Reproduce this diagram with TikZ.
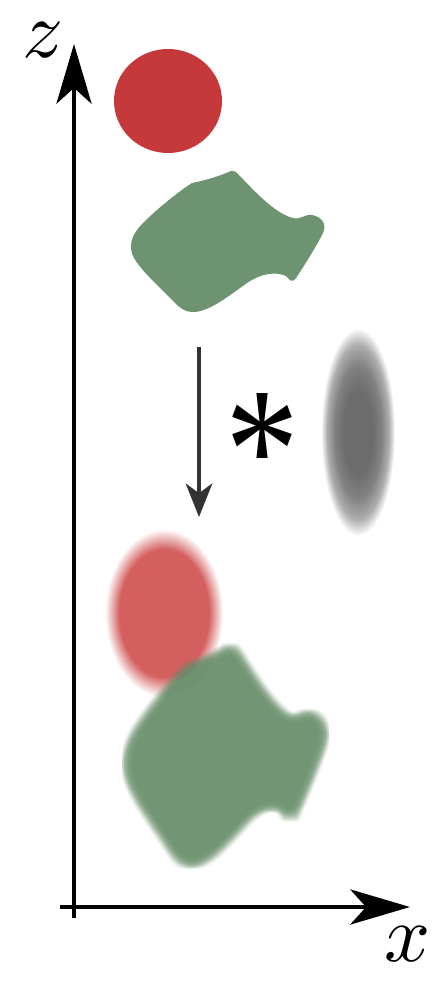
\documentclass[tikz,border=0pt]{standalone}
\usepackage{fontspec}
\usepackage{tikz}
\usepackage{xcolor}
\usetikzlibrary{arrows.meta}
\newfontfamily\starfont{Liberation Serif}
\definecolor{DotRed}{HTML}{C6393A}
\definecolor{SmearRed}{HTML}{D45F5F}
\definecolor{BlobGreen}{HTML}{6E9370}
\definecolor{KernelGray}{HTML}{6C6C6C}
\definecolor{ArrowInk}{HTML}{333333}
\pgfdeclareradialshading{smearred}{\pgfpoint{0bp}{0bp}}{color(0bp)=(SmearRed); color(19bp)=(SmearRed); color(25bp)=(white); color(50bp)=(white)}
\pgfdeclareradialshading{kernelblur}{\pgfpoint{0bp}{0bp}}{color(0bp)=(KernelGray); color(10bp)=(KernelGray); color(16bp)=(KernelGray!85!white); color(21bp)=(KernelGray!55!white); color(25bp)=(white); color(50bp)=(white)}
\newcommand\blobpath[1]{%
  \path[#1] (192,183) .. controls (208,180) and (222,175) .. (231,171)
    .. controls (234,170) and (236,172) .. (239,175)
    .. controls (256,193) and (276,214) .. (293,218)
    .. controls (301,220) and (304,214) .. (312,215)
    .. controls (322,217) and (327,224) .. (323,233)
    .. controls (316,247) and (304,266) .. (296,278)
    .. controls (293,283) and (290,281) .. (286,276)
    .. controls (275,271) and (260,274) .. (247,283)
    .. controls (230,295) and (208,313) .. (192,312)
    .. controls (185,312) and (180,308) .. (175,303)
    .. controls (160,287) and (142,272) .. (134,258)
    .. controls (128,247) and (131,236) .. (141,225)
    .. controls (158,208) and (178,192) .. (192,183) -- cycle;}

\begin{document}
\begin{tikzpicture}[
    x=0.02cm, y=-0.02cm,
    axisline/.style={
      line width=2.3pt,
      -{Stealth[length=34pt, width=20pt, inset=9pt]},
    },
    flow/.style={
      draw=ArrowInk,
      line width=2.6pt,
      -{Stealth[length=19pt, width=15pt, inset=5.5pt]},
    },
    axislabel/.style={scale=4.6, inner sep=0pt},
  ]
    \useasboundingbox (0,0) rectangle (440,982);

    \fill[DotRed] (168,101) ellipse (54 and 52);
    \blobpath{fill=BlobGreen}

    \shade[shading=kernelblur] (358,432) ellipse (37 and 104);
    \node[font=\starfont\fontsize{84}{84}\selectfont, yscale=1.2, inner sep=0pt] (star) at (262,452) {*};
    \coordinate (flowtop) at (199,347);
    \coordinate (flowbot) at (199,517);
    \draw[flow] (flowtop) -- (flowbot);

    \shade[shading=smearred] (164,613) ellipse (59 and 84);
    \foreach \dx in {-7,-5,...,7}{
      \foreach \dy in {-7,-5,...,7}{
        \begin{scope}[shift={(225+\dx,756+\dy)}, yscale=1.5, shift={(-227,-241.5)}]
          \blobpath{fill=BlobGreen, fill opacity=0.07}
        \end{scope}
      }
    }

    \coordinate (zfoot) at (74,918);
    \coordinate (ztip) at (74,44);
    \coordinate (xfoot) at (60,907);
    \coordinate (xtip) at (410,907);
    \draw[axisline] (zfoot) -- (ztip);
    \draw[axisline] (xfoot) -- (xtip);
    \node[axislabel] (zlab) at (43,40) {$z$};
    \node[axislabel] (xlab) at (408,944) {$x$};
  \end{tikzpicture}
\end{document}
